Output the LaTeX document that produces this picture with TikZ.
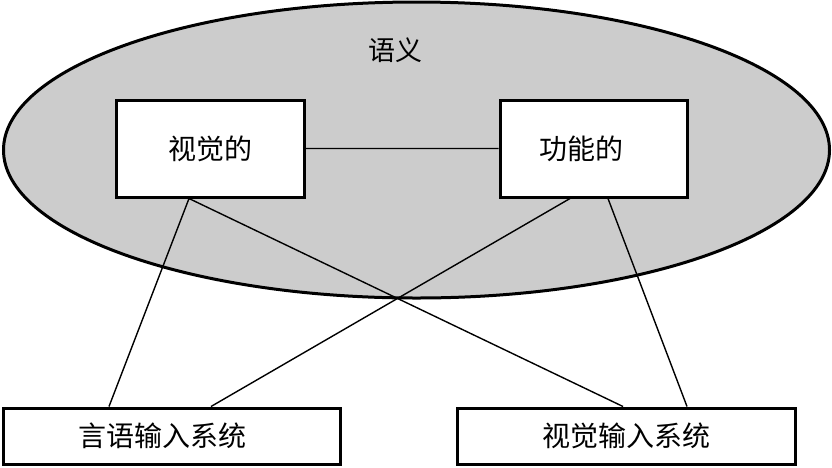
\documentclass[tikz,border=0pt]{standalone}
\usepackage{fontspec}
\setmainfont{Noto Sans CJK SC}
\usetikzlibrary{positioning}

\begin{document}
\begin{tikzpicture}[x=1pt,y=-1pt,
    box/.style={draw, line width=3pt, fill=white, inner sep=0pt},
    link/.style={line width=1.4pt}]
    \useasboundingbox (0,0) rectangle (832,467);
    % the oval for semantics
        \draw[line width=3pt, fill=black!20] (416.5,150) ellipse [x radius=413pt, y radius=148pt];
        \node (sem) at (395,50) {\fontsize{27}{30}\selectfont 语义};
    % the boxes
        \node[box,
              minimum width=188pt,
              minimum height=97pt] (vis) at (210,148.5) {\fontsize{28}{32}\selectfont 视觉的};
        \node[box,
              right=193pt of vis,
              minimum width=187pt,
              minimum height=97pt] (func) {\fontsize{28}{32}\selectfont 功能的\kern24pt};
        \node[box,
              minimum width=337pt,
              minimum height=56pt] (lang) at (171.5,436) {\fontsize{28}{32}\selectfont 言语输入系统\kern18pt};
        \node[box,
              minimum width=338pt,
              minimum height=56pt] (visin) at (626,436) {\fontsize{28}{32}\selectfont 视觉输入系统};

       \draw[link]
            (vis) -- (func)
            ([xshift=-21pt]vis.south) -- ([xshift=-62.5pt]lang.north)
            ([xshift=-21pt]vis.south) -- ([xshift=-3pt]visin.north)
            ([xshift=-23.5pt]func.south) -- ([xshift=39.5pt]lang.north)
            ([xshift=14.5pt]func.south) -- ([xshift=61pt]visin.north)
            ;
\end{tikzpicture}
\end{document}
